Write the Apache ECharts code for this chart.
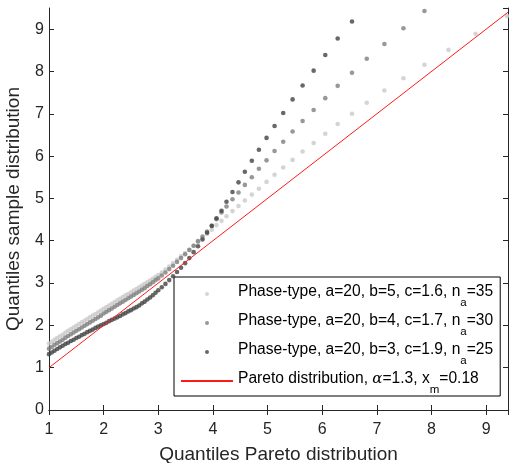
<!DOCTYPE html>
<html>
<head>
<meta charset="utf-8">
<script src="https://cdn.jsdelivr.net/npm/echarts@6/dist/echarts.min.js"></script>
<style>
  html, body { margin: 0; padding: 0; background: #fff; }
  #chart { width: 509px; height: 463px; }
</style>
</head>
<body>
<div id="chart"></div>
<script>
// Pareto quantiles shared by every sample (x positions of the QQ points)
const paretoQuantiles = [
  1.00, 1.05, 1.10, 1.15, 1.20, 1.25, 1.30, 1.35, 1.40, 1.45,
  1.50, 1.55, 1.60, 1.65, 1.70, 1.75, 1.80, 1.85, 1.90, 1.95,
  2.00, 2.05, 2.10, 2.15, 2.20, 2.25, 2.30, 2.35, 2.40, 2.45,
  2.50, 2.55, 2.60, 2.65, 2.70, 2.75, 2.80, 2.85, 2.90, 2.95,
  3.00,
  3.064, 3.131, 3.200, 3.271, 3.343, 3.416, 3.491, 3.568, 3.647, 3.727,
  3.809, 3.893, 3.979, 4.065, 4.157, 4.248, 4.358, 4.468, 4.584, 4.712,
  4.841, 4.981, 5.128, 5.286, 5.458, 5.641, 5.843, 6.056, 6.283, 6.545,
  6.815, 7.138, 7.486, 7.871, 8.311, 8.806, 9.381
];

// Sample quantiles, phase-type a=20, b=5, c=1.6
const sampleB5 = [
  1.57, 1.61, 1.66, 1.70, 1.74, 1.78, 1.83, 1.87, 1.91, 1.95,
  1.99, 2.03, 2.07, 2.11, 2.15, 2.19, 2.23, 2.27, 2.31, 2.35,
  2.39, 2.43, 2.47, 2.51, 2.55, 2.59, 2.63, 2.67, 2.71, 2.74,
  2.78, 2.82, 2.86, 2.90, 2.94, 2.98, 3.02, 3.06, 3.10, 3.15,
  3.19,
  3.25, 3.32, 3.39, 3.47, 3.55, 3.63, 3.71, 3.79, 3.88, 3.97,
  4.06, 4.16, 4.26, 4.37, 4.47, 4.58, 4.70, 4.82, 4.95, 5.09,
  5.23, 5.39, 5.56, 5.73, 5.91, 6.11, 6.31, 6.53, 6.76, 7.00,
  7.26, 7.55, 7.84, 8.16, 8.51, 8.89, 9.31
];

// Sample quantiles, phase-type a=20, b=4, c=1.7
const sampleB4 = [
  1.45, 1.49, 1.54, 1.58, 1.62, 1.66, 1.71, 1.75, 1.79, 1.83,
  1.87, 1.91, 1.95, 1.99, 2.03, 2.07, 2.11, 2.15, 2.19, 2.23,
  2.28, 2.32, 2.36, 2.40, 2.44, 2.48, 2.52, 2.56, 2.60, 2.64,
  2.68, 2.72, 2.76, 2.80, 2.84, 2.88, 2.93, 2.97, 3.02, 3.07,
  3.11,
  3.18, 3.25, 3.33, 3.41, 3.50, 3.59, 3.68, 3.78, 3.88, 3.99,
  4.10, 4.22, 4.36, 4.51, 4.67, 4.81, 4.98, 5.14, 5.32, 5.50,
  5.70, 5.90, 6.12, 6.34, 6.58, 6.83, 7.09, 7.37, 7.66, 7.97,
  8.30, 8.65, 9.02, 9.43
];

// Sample quantiles, phase-type a=20, b=3, c=1.9
const sampleB3 = [
  1.32, 1.36, 1.40, 1.44, 1.48, 1.52, 1.56, 1.59, 1.63, 1.66,
  1.70, 1.73, 1.77, 1.80, 1.84, 1.87, 1.90, 1.94, 1.97, 2.00,
  2.03, 2.06, 2.10, 2.13, 2.16, 2.19, 2.22, 2.26, 2.29, 2.33,
  2.36, 2.40, 2.43, 2.47, 2.52, 2.56, 2.61, 2.66, 2.71, 2.77,
  2.83,
  2.90, 2.98, 3.07, 3.16, 3.26, 3.36, 3.47, 3.59, 3.73, 3.87,
  4.03, 4.19, 4.35, 4.53, 4.71, 4.92, 5.15, 5.38, 5.63, 5.89,
  6.15, 6.43, 6.71, 7.02, 7.34, 7.67, 8.02, 8.39, 8.78, 9.18
];

// Reference Pareto line (quantiles against themselves)
const paretoLineX = [1, 9.4];
const paretoLineY = [1, 9.4];

const xTicks = [1, 2, 3, 4, 5, 6, 7, 8, 9];
const yTicks = [0, 1, 2, 3, 4, 5, 6, 7, 8, 9];

const seriesNames = [
  'Phase-type, a=20, b=5, c=1.6, n_a=35',
  'Phase-type, a=20, b=4, c=1.7, n_a=30',
  'Phase-type, a=20, b=3, c=1.9, n_a=25',
  'Pareto distribution, alpha=1.3, x_m=0.18'
];

// Rich-text legend labels; {z|} is a zero-width strut that fixes the row height
const legendRich = {
  '0': '{z|\u200b}{t|Phase-type, a=20, b=5, c=1.6, n}{s|a}{t|=35}',
  '1': '{z|\u200b}{t|Phase-type, a=20, b=4, c=1.7, n}{s|a}{t|=30}',
  '2': '{z|\u200b}{t|Phase-type, a=20, b=3, c=1.9, n}{s|a}{t|=25}',
  '3': '{z|\u200b}{t|Pareto distribution, }{g|α}{t|=1.3, x}{s|m}{t|=0.18}'
};

const pair = (xs, ys) => ys.map((y, i) => [xs[i], y]);

const FONT = 'Liberation Sans, Arial, Helvetica, sans-serif';
const INK = '#262626';

const chart = echarts.init(document.getElementById('chart'), null, { renderer: 'canvas' });

const baseX = { type: 'value', min: xTicks[0], max: 9.4, interval: 1 };
const baseY = { type: 'value', min: yTicks[0], max: 9.5, interval: 1 };

chart.setOption({
  animation: false,
  backgroundColor: '#ffffff',
  grid: { left: 49, right: 1, top: 8, bottom: 53, containLabel: false, outerBoundsMode: 'none' },
  xAxis: [
    Object.assign({}, baseX, {
      position: 'bottom',
      name: 'Quantiles Pareto distribution',
      nameLocation: 'middle',
      nameGap: 35,
      nameTextStyle: { fontFamily: FONT, fontSize: 19, color: INK },
      axisLine: { show: true, lineStyle: { color: INK, width: 1 } },
      axisTick: { show: true, inside: true, length: 5, lineStyle: { color: INK } },
      axisLabel: { show: true, margin: 12, fontFamily: FONT, fontSize: 16, color: INK, showMaxLabel: false },
      splitLine: { show: false }
    }),
    Object.assign({}, baseX, {
      position: 'top',
      axisLine: { show: true, lineStyle: { color: INK, width: 1 } },
      axisTick: { show: true, inside: true, length: 5, lineStyle: { color: INK } },
      axisLabel: { show: false },
      splitLine: { show: false }
    })
  ],
  yAxis: [
    Object.assign({}, baseY, {
      position: 'left',
      name: 'Quantiles sample distribution',
      nameLocation: 'middle',
      nameGap: 26,
      nameTextStyle: { fontFamily: FONT, fontSize: 19, color: INK },
      axisLine: { show: true, lineStyle: { color: INK, width: 1 } },
      axisTick: { show: true, inside: true, length: 5, lineStyle: { color: INK } },
      axisLabel: { show: true, margin: 5, fontFamily: FONT, fontSize: 16, color: INK, showMaxLabel: false },
      splitLine: { show: false }
    }),
    Object.assign({}, baseY, {
      position: 'right',
      axisLine: { show: true, lineStyle: { color: INK, width: 1 } },
      axisTick: { show: true, inside: true, length: 5, lineStyle: { color: INK } },
      axisLabel: { show: false },
      splitLine: { show: false }
    })
  ],
  legend: {
    orient: 'vertical',
    left: 174,
    top: 277,
    padding: [3.5, 7, 0, 6],
    itemWidth: 52,
    itemHeight: 4,
    itemGap: 0.5,
    backgroundColor: '#ffffff',
    borderColor: '#000000',
    borderWidth: 1,
    borderRadius: 0,
    data: [
      { name: seriesNames[0] },
      { name: seriesNames[1] },
      { name: seriesNames[2] },
      { name: seriesNames[3], itemStyle: { color: 'rgba(0,0,0,0)', borderWidth: 0 } }
    ],
    formatter: function (name) {
      return legendRich[String(seriesNames.indexOf(name))];
    },
    textStyle: {
      rich: {
        z: { fontFamily: FONT, fontSize: 1, height: 1, lineHeight: 27, verticalAlign: 'top' },
        t: { fontFamily: FONT, fontSize: 15.6, color: '#000', height: 23, lineHeight: 23, verticalAlign: 'top' },
        s: { fontFamily: FONT, fontSize: 11.5, color: '#000', height: 9, lineHeight: 9, verticalAlign: 'bottom' },
        g: { fontFamily: 'DejaVu Serif, Liberation Serif, serif', fontStyle: 'italic', fontSize: 15, color: '#000', height: 23, lineHeight: 23, verticalAlign: 'top' }
      }
    }
  },
  series: [
    {
      name: seriesNames[0], type: 'scatter', symbol: 'circle', symbolSize: 4.6,
      itemStyle: { color: '#c9c9c9' }, z: 2,
      data: pair(paretoQuantiles, sampleB5)
    },
    {
      name: seriesNames[1], type: 'scatter', symbol: 'circle', symbolSize: 4.6,
      itemStyle: { color: '#7e7e7e' }, z: 3,
      data: pair(paretoQuantiles, sampleB4)
    },
    {
      name: seriesNames[2], type: 'scatter', symbol: 'circle', symbolSize: 4.6,
      itemStyle: { color: '#424242' }, z: 4,
      data: pair(paretoQuantiles, sampleB3)
    },
    {
      name: seriesNames[3], type: 'line', symbol: 'none',
      lineStyle: { color: '#ff1a1a', width: 1 }, itemStyle: { color: '#ff1a1a' }, z: 5,
      data: pair(paretoLineX, paretoLineY)
    }
  ]
});
</script>
</body>
</html>
